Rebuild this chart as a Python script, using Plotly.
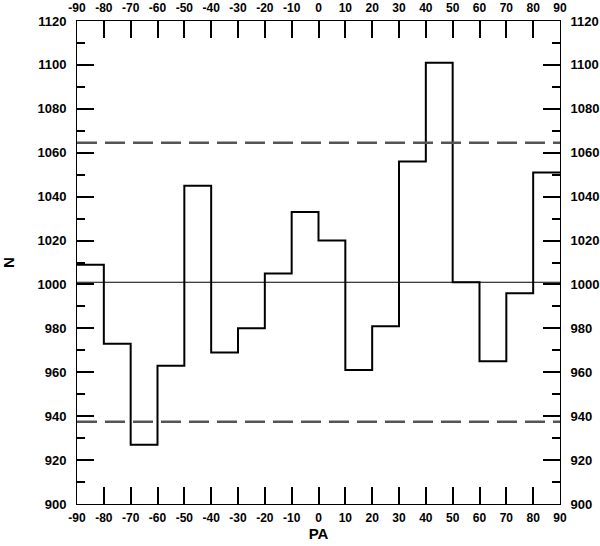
import plotly.graph_objects as go

# bin edges along PA and counts per bin
pa_edges = [-90, -80, -70, -60, -50, -40, -30, -20, -10, 0, 10, 20, 30, 40, 50, 60, 70, 80, 90]
counts = [1009, 973, 927, 963, 1045, 969, 980, 1005, 1033, 1020, 961, 981, 1056, 1101, 1001, 965, 996, 1051]
mean_level = 1001
upper_level = 1064.5
lower_level = 937.5

x_ticks = list(range(-90, 91, 10))
x_labels = [str(v) for v in x_ticks]  # plain hyphen, not unicode minus
y_ticks = list(range(900, 1121, 20))

xfnt = dict(family="Liberation Sans, Arial, sans-serif", size=12, color="black", weight="bold")
yfnt = dict(family="Liberation Sans, Arial, sans-serif", size=13, color="black", weight="bold")
tfnt = dict(family="Liberation Sans, Arial, sans-serif", size=15, color="black", weight="bold")

fig = go.Figure()

# histogram as a step line
fig.add_trace(go.Scatter(
    x=pa_edges, y=counts + [counts[-1]],
    mode="lines", line=dict(shape="hv", color="black", width=2),
    showlegend=False, hoverinfo="skip",
))

# mean level and the two dashed limits
fig.add_trace(go.Scatter(
    x=[pa_edges[0], pa_edges[-1]], y=[mean_level, mean_level],
    mode="lines", line=dict(color="black", width=1), showlegend=False,
))
for lev in (upper_level, lower_level):
    fig.add_trace(go.Scatter(
        x=[pa_edges[0], pa_edges[-1]], y=[lev, lev],
        mode="lines", line=dict(color="#555555", width=2.5, dash="20px,8px"),
        showlegend=False,
    ))

# dummy trace so the top/right axes get drawn
fig.add_trace(go.Scatter(x=[0], y=[1000], xaxis="x2", yaxis="y2",
                         mode="markers", marker=dict(opacity=0), showlegend=False))

common_x = dict(range=[-90, 90], tickvals=x_ticks, ticktext=x_labels, ticks="inside",
                ticklen=17, tickwidth=2, tickcolor="black", showline=True, linecolor="black",
                linewidth=1, showgrid=False, zeroline=False, tickfont=xfnt,
                ticklabelstandoff=3, automargin=False)
common_y = dict(range=[900, 1120], tickvals=y_ticks, ticks="inside", ticklen=17, tickwidth=2,
                tickcolor="black", showline=True, linecolor="black", linewidth=1,
                showgrid=False, zeroline=False, tickfont=yfnt, ticklabelstandoff=7,
                automargin=False,
                minor=dict(dtick=10, tick0=900, ticks="inside", ticklen=8, tickwidth=1.5,
                           tickcolor="black", showgrid=False))

fig.update_layout(
    width=600, height=546,
    margin=dict(l=77, r=40, t=21, b=42),
    plot_bgcolor="white", paper_bgcolor="white",
    xaxis=dict(**common_x, side="bottom", title=dict(text="PA", font=tfnt, standoff=1)),
    xaxis2=dict(**common_x, side="top", overlaying="x", anchor="y"),
    yaxis=dict(**common_y, side="left", title=dict(text="N", font=tfnt, standoff=22)),
    yaxis2=dict(**common_y, side="right", overlaying="y", anchor="x"),
)

# drop the default body margin so the figure sits at the window corner
fig.write_html("out.html", config={"displayModeBar": False},
               post_script="document.body.style.margin='0';")
